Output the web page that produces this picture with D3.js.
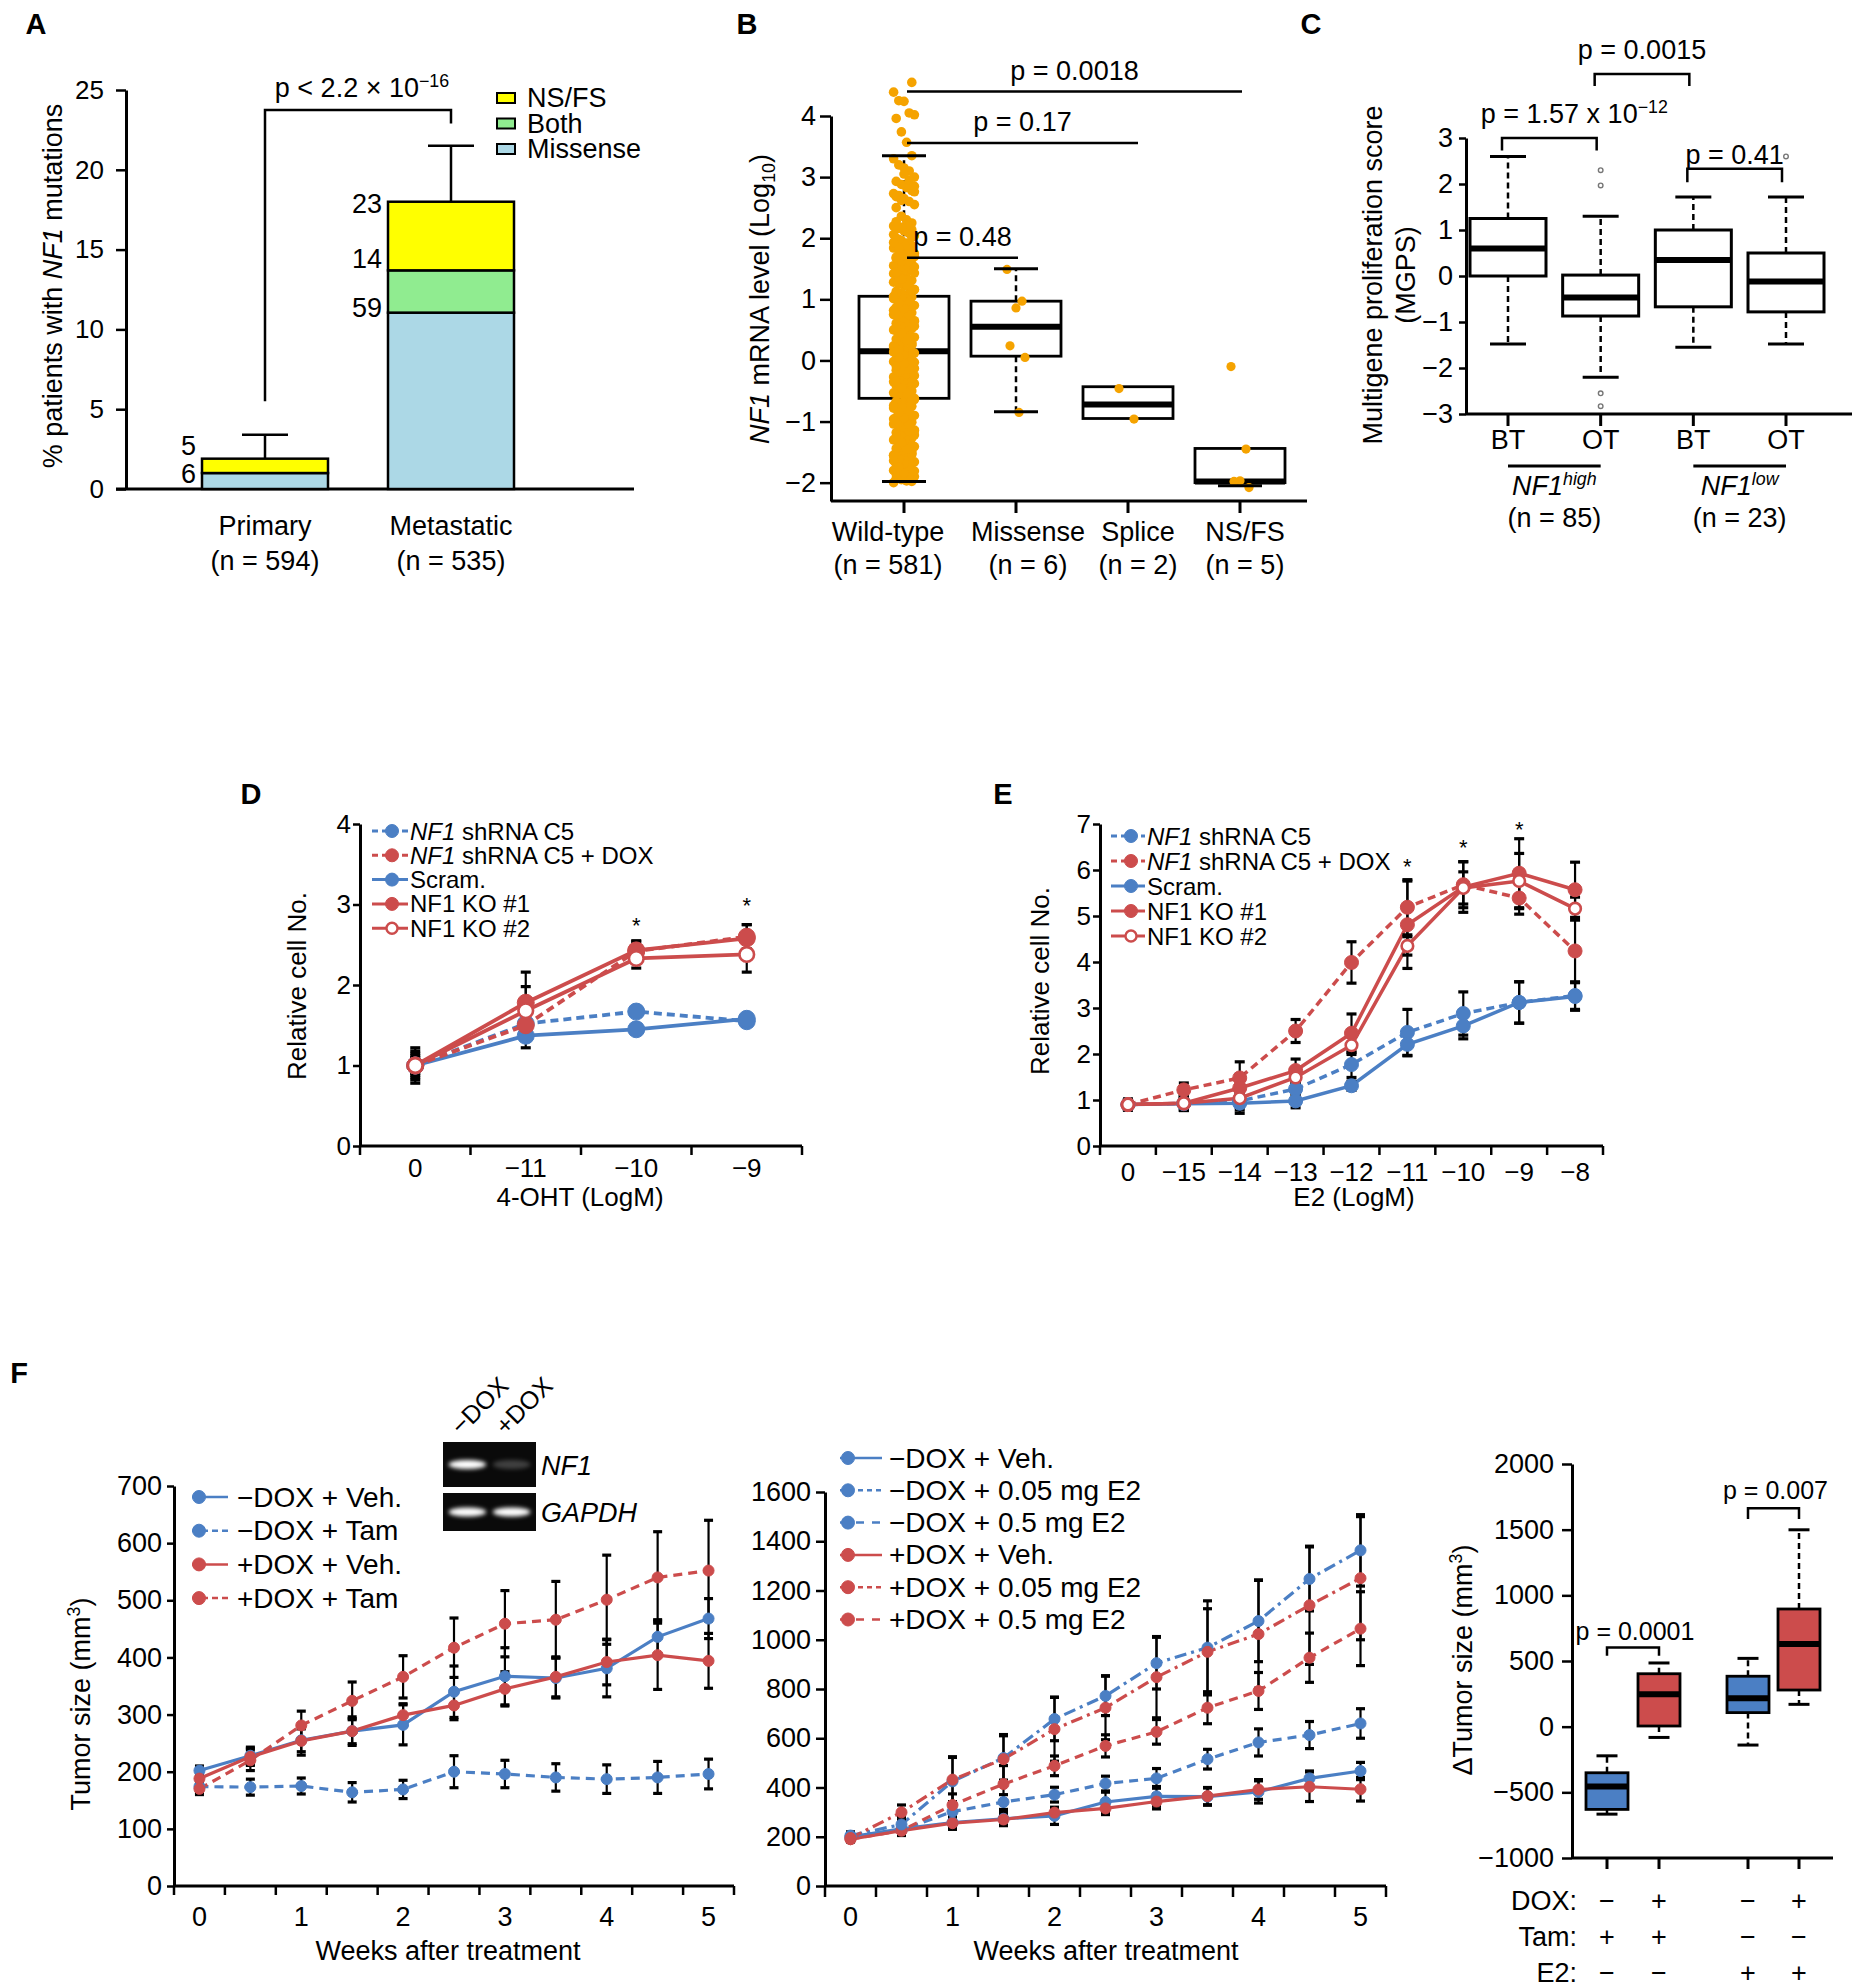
<!DOCTYPE html>
<html><head><meta charset="utf-8">
<script src="https://cdn.jsdelivr.net/npm/d3@7"></script>
<style>
body{margin:0;background:#fff;}
svg text{font-family:"Liberation Sans", Arial, Helvetica, sans-serif; fill:#000;}
</style></head><body>
<svg id="fig" width="1860" height="1988"></svg>
<script>
// ================= DATA =================
// Panel A
const aCategories = ["Primary", "Metastatic"];
const aSubLabels = ["(n = 594)", "(n = 535)"];
const aKeys = ["Missense", "Both", "NS/FS"];
const aMissense = [1.0, 11.05];
const aBoth = [0.0, 2.65];
const aNSFS = [0.9, 4.3];
const aErrTop = [3.4, 21.5];
const aCountLabels = [["6", "", "5"], ["59", "14", "23"]];
const aTicks = [0, 5, 10, 15, 20, 25];
const aBracket = {left: 5.5, top: 23.75, right: 22.9};

// Panel B
const bCategories = ["Wild-type", "Missense", "Splice", "NS/FS"];
const bCounts = ["(n = 581)", "(n = 6)", "(n = 2)", "(n = 5)"];
const bQ1 = [-0.62, 0.07, -0.95, -2.0];
const bMedian = [0.15, 0.55, -0.72, -1.98];
const bQ3 = [1.05, 0.97, -0.43, -1.44];
const bWhiskLo = [-1.98, -0.84, null, -2.05];
const bWhiskHi = [3.35, 1.5, null, null];
const bTicks = [-2, -1, 0, 1, 2, 3, 4];
const bWildType = [-2.0,-1.98,-1.97,-1.95,-1.93,-1.9,-1.88,-1.85,-1.82,-1.8,-1.78,-1.75,-1.72,-1.7,-1.66,-1.63,-1.6,-1.58,-1.55,-1.52,-1.5,-1.47,-1.44,-1.41,-1.38,-1.35,-1.33,-1.3,-1.27,-1.24,-1.21,-1.18,-1.15,-1.12,-1.1,-1.07,-1.04,-1.01,-0.98,-0.95,-0.93,-0.9,-0.87,-0.84,-0.81,-0.78,-0.75,-0.72,-0.7,-0.67,-0.64,-0.61,-0.58,-0.55,-0.53,-0.5,-0.47,-0.44,-0.41,-0.38,-0.36,-0.33,-0.3,-0.27,-0.24,-0.21,-0.19,-0.16,-0.13,-0.1,-0.07,-0.04,-0.02,0.01,0.04,0.07,0.1,0.12,0.15,0.18,0.21,0.24,0.27,0.3,0.32,0.35,0.38,0.41,0.44,0.47,0.5,0.52,0.55,0.58,0.61,0.64,0.67,0.7,0.72,0.75,0.78,0.81,0.84,0.87,0.9,0.92,0.95,0.98,1.01,1.04,1.07,1.1,1.13,1.16,1.19,1.22,1.25,1.28,1.31,1.34,1.37,1.4,1.43,1.46,1.49,1.52,1.55,1.58,1.61,1.64,1.67,1.7,1.73,1.76,1.8,1.84,1.88,1.92,1.96,2.0,2.04,2.08,2.12,2.16,2.2,2.25,2.3,2.36,2.5,2.55,2.6,2.65,2.7,2.73,2.78,2.83,2.88,2.93,3.0,3.1,3.15,3.2,3.3,3.35,3.57,3.74,3.96,4.02,4.05,4.24,4.25,4.39,4.55,
 -1.96,-1.91,-1.86,-1.81,-1.76,-1.69,-1.62,-1.56,-1.49,-1.42,-1.36,-1.29,-1.22,-1.16,-1.09,-1.02,-0.96,-0.89,-0.82,-0.76,-0.69,-0.62,-0.56,-0.49,-0.42,-0.35,-0.29,-0.22,-0.15,-0.09,-0.03,0.03,0.09,0.16,0.22,0.29,0.36,0.42,0.49,0.56,0.62,0.69,0.76,0.82,0.89,0.96,1.02,1.09,1.16,1.22,1.29,1.36,1.42,1.49,1.56,1.62,1.69,1.75,1.82,1.9,1.98,2.06,2.14,2.22,2.62,2.68,2.76,
 -1.94,-1.84,-1.74,-1.64,-1.54,-1.45,-1.34,-1.25,-1.14,-1.05,-0.94,-0.85,-0.74,-0.65,-0.54,-0.45,-0.34,-0.25,-0.14,-0.05,0.05,0.14,0.25,0.34,0.45,0.54,0.65,0.74,0.85,0.94,1.05,1.14,1.24,1.33,1.44,1.53,1.63,1.72,1.83,1.93,2.02,2.11,2.18,2.27,2.85,2.95,3.05];
const bMissensePts = [1.49, 0.97, 0.86, 0.24, 0.05, -0.85];
const bSplicePts = [-0.46, -0.96];
const bNSFSPts = [-0.1, -1.45, -1.97, -1.98, -2.08];
const bPvals = [
  {p: "p = 0.48", from: "Wild-type", to: "Missense", y: 1.68},
  {p: "p = 0.17", from: "Wild-type", to: "Splice", y: 3.56},
  {p: "p = 0.0018", from: "Wild-type", to: "NS/FS", y: 4.4}
];

// Panel C
const cLabels = ["BT", "OT", "BT", "OT"];
const cQ1 = [0.0, -0.87, -0.67, -0.78];
const cMedian = [0.6, -0.47, 0.35, -0.12];
const cQ3 = [1.25, 0.02, 1.0, 0.5];
const cWhiskLo = [-1.48, -2.2, -1.55, -1.48];
const cWhiskHi = [2.6, 1.3, 1.72, 1.72];
const cOutliers = [[], [2.3, 1.97, -2.55, -2.83], [], [2.6]];
const cTicks = [-3, -2, -1, 0, 1, 2, 3];
const cBrackets = [
  {from: 0, to: 1, top: 3.0, leg: 2.73, text: [{t: "p = 1.57 x 10"}, {t: "\u221212", sup: true}], ty: 3.33},
  {from: 1, to: 2, top: 4.39, leg: 4.13, text: [{t: "p = 0.0015"}], ty: 4.72},
  {from: 2, to: 3, top: 2.33, leg: 2.04, text: [{t: "p = 0.41"}], ty: 2.43}
];
const cGroups = [
  {from: 0, to: 1, name: "high", n: "(n = 85)"},
  {from: 2, to: 3, name: "low", n: "(n = 23)"}
];

// Panel D
const dCategories = ["0", "\u221211", "\u221210", "\u22129"];
const dShC5 = [1.0, 1.52, 1.67, 1.55];
const dShC5Err = [0.1, 0.08, 0.06, 0.06];
const dShC5Dox = [1.0, 1.5, 2.42, 2.6];
const dShC5DoxErr = [0.15, 0.12, 0.12, 0.15];
const dScram = [1.0, 1.37, 1.45, 1.58];
const dScramErr = [0.12, 0.15, 0.06, 0.05];
const dKO1 = [1.0, 1.78, 2.43, 2.58];
const dKO1Err = [0.18, 0.38, 0.12, 0.17];
const dKO2 = [1.0, 1.68, 2.33, 2.38];
const dKO2Err = [0.22, 0.3, 0.12, 0.22];
const dTicks = [0, 1, 2, 3, 4];
const dStars = [{cat: "\u221210", y: 2.75}, {cat: "\u22129", y: 2.99}];

// Panel E
const eCategories = ["0", "\u221215", "\u221214", "\u221213", "\u221212", "\u221211", "\u221210", "\u22129", "\u22128"];
const eShC5 = [0.9, 0.93, 0.98, 1.24, 1.77, 2.47, 2.88, 3.12, 3.27];
const eShC5Err = [0.12, 0.15, 0.2, 0.15, 0.28, 0.5, 0.47, 0.45, 0.3];
const eShC5Dox = [0.9, 1.22, 1.48, 2.5, 3.99, 5.19, 5.68, 5.39, 4.24];
const eShC5DoxErr = [0.1, 0.15, 0.35, 0.25, 0.45, 0.6, 0.5, 0.35, 0.9];
const eScram = [0.9, 0.92, 0.93, 0.98, 1.31, 2.21, 2.61, 3.12, 3.25];
const eScramErr = [0.12, 0.15, 0.22, 0.15, 0.1, 0.25, 0.28, 0.45, 0.3];
const eKO1 = [0.9, 0.93, 1.26, 1.64, 2.45, 4.81, 5.63, 5.93, 5.57];
const eKO1Err = [0.1, 0.15, 0.3, 0.25, 0.42, 0.95, 0.55, 0.75, 0.6];
const eKO2 = [0.9, 0.93, 1.04, 1.49, 2.19, 4.35, 5.61, 5.76, 5.16];
const eKO2Err = [0.1, 0.1, 0.2, 0.15, 0.2, 0.2, 0.35, 0.6, 0.25];
const eTicks = [0, 1, 2, 3, 4, 5, 6, 7];
const eStars = [{cat: "\u221211", y: 6.09}, {cat: "\u221210", y: 6.5}, {cat: "\u22129", y: 6.89}];

// Panel F (left)
const fWeeks = ["0", "0.5", "1", "1.5", "2", "2.5", "3", "3.5", "4", "4.5", "5"];
const fWeekLabels = ["0", "1", "2", "3", "4", "5"];
const flVeh = [202, 228, 255, 271, 282, 340, 367, 364, 381, 436, 468];
const flVehErr = [8, 15, 20, 22, 35, 45, 50, 35, 50, 30, 35];
const flTam = [174, 173, 175, 164, 169, 200, 196, 190, 187, 190, 196];
const flTamErr = [10, 14, 14, 17, 16, 28, 24, 24, 25, 28, 26];
const flDoxVeh = [188, 226, 254, 271, 299, 316, 345, 366, 392, 404, 394];
const flDoxVehErr = [10, 15, 25, 25, 20, 25, 30, 35, 40, 60, 48];
const flDoxTam = [170, 220, 281, 324, 366, 417, 459, 466, 501, 540, 552];
const flDoxTamErr = [10, 18, 25, 33, 37, 52, 58, 67, 78, 80, 88];
const flTicks = [0, 100, 200, 300, 400, 500, 600, 700];
const gelLanes = ["\u2212DOX", "+DOX"];
const gelNF1 = [1.0, 0.22];
const gelGAPDH = [1.0, 1.0];

// Panel F (middle)
const fmVeh = [200, 232, 258, 273, 285, 341, 364, 363, 382, 437, 467];
const fmVehErr = [10, 15, 20, 25, 35, 40, 40, 35, 45, 30, 35];
const fmE2Low = [205, 250, 425, 520, 678, 772, 905, 968, 1076, 1247, 1363];
const fmE2LowErr = [15, 30, 100, 90, 88, 80, 105, 190, 165, 130, 145];
const fmE2High = [200, 228, 302, 341, 371, 416, 437, 515, 583, 613, 660];
const fmE2HighErr = [10, 15, 40, 30, 30, 30, 40, 40, 55, 55, 60];
const fmDoxVeh = [190, 225, 255, 270, 298, 315, 343, 365, 392, 403, 393];
const fmDoxVehErr = [10, 15, 25, 25, 20, 25, 30, 35, 40, 60, 48];
const fmDoxE2Low = [195, 299, 432, 515, 637, 724, 848, 951, 1023, 1140, 1250];
const fmDoxE2LowErr = [15, 30, 90, 100, 130, 130, 165, 175, 220, 240, 250];
const fmDoxE2High = [190, 225, 329, 414, 488, 569, 626, 724, 792, 927, 1045];
const fmDoxE2HighErr = [10, 20, 45, 75, 40, 45, 50, 65, 75, 100, 150];
const fmTicks = [0, 200, 400, 600, 800, 1000, 1200, 1400, 1600];

// Panel F (right)
const frCats = ["g1", "g2", "g3", "g4"];
const frQ1 = [-630, 5, 107, 279];
const frMedian = [-455, 247, 216, 630];
const frQ3 = [-351, 403, 384, 896];
const frWhiskLo = [-666, -82, -140, 170];
const frWhiskHi = [-222, 485, 520, 1499];
const frDox = ["\u2212", "+", "\u2212", "+"];
const frTam = ["+", "+", "\u2212", "\u2212"];
const frE2 = ["\u2212", "\u2212", "+", "+"];
const frTicks = [-1000, -500, 0, 500, 1000, 1500, 2000];
const frBrackets = [
  {from: "g1", to: "g2", top: 603, leg: 540, p: "p = 0.0001", ty: 663},
  {from: "g3", to: "g4", top: 1663, leg: 1581, p: "p = 0.007", ty: 1732}
];

// ================= DRAWING =================
const FONT = '"Liberation Sans", Arial, Helvetica, sans-serif';
const BLUE = "#4b7fc4", RED = "#cc4c4c";
const svg = d3.select("#fig");
svg.append("rect").attr("width", 1860).attr("height", 1988).attr("fill", "#fff");
const defs = svg.append("defs");
defs.append("filter").attr("id", "blur").attr("x", "-50%").attr("y", "-100%").attr("width", "200%").attr("height", "300%")
  .append("feGaussianBlur").attr("stdDeviation", 2.2);

function txt(g, x, y, s, o = {}) {
  const size = o.size || 26;
  const t = g.append("text").attr("x", x).attr("y", y)
    .attr("font-size", size).attr("text-anchor", o.anchor || "middle");
  if (o.weight) t.attr("font-weight", o.weight);
  if (o.italic) t.attr("font-style", "italic");
  if (o.rotate) t.attr("transform", `rotate(${o.rotate},${x},${y})`);
  if (o.baseline) t.attr("dominant-baseline", o.baseline);
  if (Array.isArray(s)) {
    let shift = 0;
    s.forEach(p => {
      const sp = t.append("tspan").text(p.t);
      if (p.i) sp.attr("font-style", "italic");
      let target = 0;
      if (p.sup) { target = -size * 0.38; sp.attr("font-size", size * 0.66); }
      if (p.sub) { target = size * 0.22; sp.attr("font-size", size * 0.66); }
      if (target !== shift) { sp.attr("dy", target - shift); shift = target; }
    });
  } else t.text(s);
  return t;
}
function line(g, x1, y1, x2, y2, w = 3, dash = null, color = "#000") {
  return g.append("line").attr("x1", x1).attr("y1", y1).attr("x2", x2).attr("y2", y2)
    .attr("stroke", color).attr("stroke-width", w).attr("stroke-dasharray", dash);
}
function styleAxis(ax, size) {
  ax.attr("font-family", FONT).attr("font-size", size);
  ax.select(".domain").attr("stroke", "#000").attr("stroke-width", 3);
  ax.selectAll(".tick line").attr("stroke", "#000").attr("stroke-width", 2.5);
  ax.selectAll(".tick text").attr("fill", "#000");
}
function yAxisLeft(g, x0, y, ticks, tickSize, pad, size) {
  const ax = g.append("g").attr("transform", `translate(${x0},0)`)
    .call(d3.axisLeft(y).tickValues(ticks).tickSize(tickSize).tickSizeOuter(0).tickPadding(pad).tickFormat(d3.format("d")));
  styleAxis(ax, size);
  return ax;
}
function letter(x, y, s) { txt(svg, x, y, s, {size: 29, weight: "bold"}); }

// ---------- Panel A ----------
(function () {
  const g = svg.append("g");
  letter(36, 34, "A");
  const y = d3.scaleLinear([0, 25], [489, 90]);
  const x = d3.scalePoint(aCategories, [265, 451]);
  const bw = 126;
  yAxisLeft(g, 126, y, aTicks, 10, 12, 26);
  line(g, 116, y(0), 634, y(0), 3);
  const table = aCategories.map((c, i) => ({cat: c, Missense: aMissense[i], Both: aBoth[i], "NS/FS": aNSFS[i]}));
  const stack = d3.stack().keys(aKeys)(table);
  const colors = {"Missense": "#acd8e6", "Both": "#90ec90", "NS/FS": "#ffff00"};
  aCategories.forEach((c, i) => {
    const top = aMissense[i] + aBoth[i] + aNSFS[i];
    line(g, x(c), y(top), x(c), y(aErrTop[i]), 2.5);
    line(g, x(c) - 23, y(aErrTop[i]), x(c) + 23, y(aErrTop[i]), 2.5);
  });
  stack.forEach(layer => {
    g.selectAll(null).data(layer).join("rect")
      .attr("x", d => x(d.data.cat) - bw / 2).attr("width", bw)
      .attr("y", d => y(d[1])).attr("height", d => y(d[0]) - y(d[1]))
      .attr("fill", colors[layer.key]).attr("stroke", "#000").attr("stroke-width", 2.5);
  });
  // count labels (vertical nudges are layout only)
  const labelDy = [[10, 0, -4], [4, -2, 11]];
  aCategories.forEach((c, i) => {
    let cum = 0;
    aKeys.forEach((k, j) => {
      cum += table[i][k];
      const lab = aCountLabels[i][j];
      if (lab) txt(g, x(c) - bw / 2 - 6, y(cum) + labelDy[i][j], lab, {size: 27, anchor: "end"});
    });
  });
  g.append("path").attr("d", `M${x("Primary")},${y(aBracket.left)}V${y(aBracket.top)}H${x("Metastatic")}V${y(aBracket.right)}`)
    .attr("fill", "none").attr("stroke", "#000").attr("stroke-width", 2.5);
  txt(g, 362, 97, [{t: "p < 2.2 \u00d7 10"}, {t: "\u221216", sup: true}], {size: 27});
  const leg = ["NS/FS", "Both", "Missense"];
  leg.forEach((k, i) => {
    const yy = 98 + i * 25.5;
    g.append("rect").attr("x", 497).attr("y", yy - 5).attr("width", 18).attr("height", 10)
      .attr("fill", colors[k]).attr("stroke", "#000").attr("stroke-width", 2);
    txt(g, 527, yy, k, {size: 27, anchor: "start", baseline: "central"});
  });
  aCategories.forEach((c, i) => {
    txt(g, x(c), 535, c, {size: 27});
    txt(g, x(c), 570, aSubLabels[i], {size: 27});
  });
  txt(g, 62, 286, [{t: "% patients with "}, {t: "NF1", i: true}, {t: " mutations"}], {size: 27, rotate: -90});
})();

// ---------- Panel B ----------
(function () {
  const g = svg.append("g");
  letter(747, 34, "B");
  const x = d3.scalePoint(bCategories, [904, 1240]);
  const y = d3.scaleLinear([-2.3, 4], [501, 116]);
  yAxisLeft(g, 831, y, bTicks, 11, 4, 27);
  line(g, 831, y(-2.3), 1307, y(-2.3), 3);
  bCategories.forEach(c => line(g, x(c), y(-2.3), x(c), y(-2.3) + 12, 3));
  const hw = 45, cap = 22;
  bCategories.forEach((c, i) => {
    const cx = x(c);
    if (bWhiskHi[i] != null) line(g, cx, y(bQ3[i]), cx, y(bWhiskHi[i]), 2.5, "6,4");
    if (bWhiskLo[i] != null) line(g, cx, y(bQ1[i]), cx, y(bWhiskLo[i]), 2.5, "6,4");
    g.append("rect").attr("x", cx - hw).attr("width", 2 * hw).attr("y", y(bQ3[i])).attr("height", y(bQ1[i]) - y(bQ3[i]))
      .attr("fill", "none").attr("stroke", "#000").attr("stroke-width", 2.8);
    line(g, cx - hw, y(bMedian[i]), cx + hw, y(bMedian[i]), 6);
  });
  const dotC = "#f5a300";
  g.selectAll(null).data(bWildType).join("circle")
    .attr("cx", (d, i) => x("Wild-type") + ((i * 7) % 9 - 4) * 2.6).attr("cy", d => y(d)).attr("r", 4.8).attr("fill", dotC);
  [["Missense", bMissensePts], ["Splice", bSplicePts], ["NS/FS", bNSFSPts]].forEach(([c, pts]) => {
    g.selectAll(null).data(pts).join("circle")
      .attr("cx", (d, i) => x(c) + ((i * 5) % 7 - 3) * 3).attr("cy", d => y(d)).attr("r", 4.6).attr("fill", dotC);
  });
  bCategories.forEach((c, i) => {
    const cx = x(c);
    if (bWhiskHi[i] != null) line(g, cx - cap, y(bWhiskHi[i]), cx + cap, y(bWhiskHi[i]), 3);
    if (bWhiskLo[i] != null) line(g, cx - cap, y(bWhiskLo[i]), cx + cap, y(bWhiskLo[i]), 3);
  });
  bPvals.forEach(p => {
    const x1 = x(p.from) + 3, x2 = x(p.to) + (p.to === "Splice" ? 10 : 2);
    line(g, x1, y(p.y), x2, y(p.y), 2.5);
    txt(g, (x1 + x2) / 2, y(p.y) - 12, p.p, {size: 27});
  });
  const labelDx = [-16, 12, 10, 5];
  bCategories.forEach((c, i) => {
    txt(g, x(c) + labelDx[i], 541, c, {size: 27});
    txt(g, x(c) + labelDx[i], 574, bCounts[i], {size: 27});
  });
  txt(g, 769, 299, [{t: "NF1", i: true}, {t: " mRNA level (Log"}, {t: "10", sub: true}, {t: ")"}], {size: 27, rotate: -90});
})();

// ---------- Panel C ----------
(function () {
  const g = svg.append("g");
  letter(1311, 34, "C");
  const idx = cLabels.map((d, i) => i);
  const x = d3.scalePoint(idx, [1508, 1786]);
  const y = d3.scaleLinear([-3, 3], [414, 138]);
  yAxisLeft(g, 1466, y, cTicks, 7, 6, 27);
  line(g, 1466, y(-3), 1852, y(-3), 3);
  idx.forEach(i => line(g, x(i), y(-3), x(i), y(-3) + 12, 3));
  const hw = 38, cap = 18;
  idx.forEach(i => {
    const cx = x(i);
    line(g, cx, y(cQ3[i]), cx, y(cWhiskHi[i]), 2.5, "6,4");
    line(g, cx, y(cQ1[i]), cx, y(cWhiskLo[i]), 2.5, "6,4");
    line(g, cx - cap, y(cWhiskHi[i]), cx + cap, y(cWhiskHi[i]), 3);
    line(g, cx - cap, y(cWhiskLo[i]), cx + cap, y(cWhiskLo[i]), 3);
    g.append("rect").attr("x", cx - hw).attr("width", 2 * hw).attr("y", y(cQ3[i])).attr("height", y(cQ1[i]) - y(cQ3[i]))
      .attr("fill", "#fff").attr("stroke", "#000").attr("stroke-width", 3);
    line(g, cx - hw, y(cMedian[i]), cx + hw, y(cMedian[i]), 6);
    g.selectAll(null).data(cOutliers[i]).join("circle").attr("cx", cx).attr("cy", d => y(d)).attr("r", 2.3)
      .attr("fill", "none").attr("stroke", "#777").attr("stroke-width", 1.4);
    txt(g, cx, 449, cLabels[i], {size: 27});
  });
  cBrackets.forEach(b => {
    const x1 = x(b.from) - 6, x2 = x(b.to) - 4;
    g.append("path").attr("d", `M${x1},${y(b.leg)}V${y(b.top)}H${x2}V${y(b.leg)}`)
      .attr("fill", "none").attr("stroke", "#000").attr("stroke-width", 2.5);
    txt(g, (x1 + x2) / 2 + (b.from === 0 ? 25 : 0), y(b.ty), b.text, {size: 27});
  });
  cGroups.forEach(gr => {
    line(g, x(gr.from), 466, x(gr.to), 466, 3);
    const mx = (x(gr.from) + x(gr.to)) / 2;
    txt(g, mx, 495, [{t: "NF1", i: true}, {t: gr.name, i: true, sup: true}], {size: 27});
    txt(g, mx, 527, gr.n, {size: 27});
  });
  txt(g, 1382, 275, "Multigene proliferation score", {size: 27, rotate: -90});
  txt(g, 1415, 275, "(MGPS)", {size: 27, rotate: -90});
})();

// ---------- generic series panel ----------
function seriesPanel(g, cfg) {
  const {x, y, cats, series, r, lw, capW} = cfg;
  const cx = c => x(c) + x.bandwidth() / 2;
  series.forEach(s => {
    const ln = d3.line().x((d, i) => cx(cats[i])).y(d => y(d));
    g.append("path").datum(s.values).attr("d", ln).attr("fill", "none")
      .attr("stroke", s.color).attr("stroke-width", lw).attr("stroke-dasharray", s.dash || null);
  });
  series.forEach(s => {
    s.values.forEach((v, i) => {
      const e = s.err[i], xx = cx(cats[i]);
      line(g, xx, y(v - e), xx, y(v + e), 2.2);
      line(g, xx - capW, y(v - e), xx + capW, y(v - e), 3.2);
      line(g, xx - capW, y(v + e), xx + capW, y(v + e), 3.2);
    });
  });
  series.forEach(s => {
    g.selectAll(null).data(s.values).join("circle")
      .attr("cx", (d, i) => cx(cats[i])).attr("cy", d => y(d)).attr("r", s.open ? r - 1.2 : r)
      .attr("fill", s.open ? "#fff" : s.color).attr("stroke", s.color).attr("stroke-width", s.open ? 2.6 : 1);
  });
}
function bandAxes(g, x, y, yTicks, o) {
  const [x0, x1] = x.range();
  yAxisLeft(g, x0, y, yTicks, o.tick, o.pad, o.fs);
  const yb = y(y.domain()[0]);
  line(g, x0, yb, x1, yb, 3);
  const bounds = x.domain().map(c => x(c)).concat([x1]);
  g.selectAll(null).data(bounds).join("line").attr("x1", d => d).attr("x2", d => d)
    .attr("y1", yb).attr("y2", yb + o.tick + 2).attr("stroke", "#000").attr("stroke-width", 2.5);
  x.domain().forEach(c => {
    if (o.labels.includes(c)) txt(g, x(c) + x.bandwidth() / 2, o.labelY, c, {size: o.fs});
  });
}
function legend(g, items, o) {
  items.forEach((it, i) => {
    const yy = o.y0 + i * o.dy;
    line(g, o.lx1, yy, o.lx2, yy, o.lw, it.dash || null, it.color);
    g.append("circle").attr("cx", o.mx).attr("cy", yy).attr("r", it.open ? o.r - 1 : o.r)
      .attr("fill", it.open ? "#fff" : it.color).attr("stroke", it.color).attr("stroke-width", it.open ? 2.4 : 1);
    txt(g, o.tx, yy, it.label, {size: o.fs, anchor: "start", baseline: "central"});
  });
}

// ---------- Panel D ----------
(function () {
  const g = svg.append("g");
  letter(251, 804, "D");
  const x = d3.scaleBand(dCategories, [360, 802]);
  const y = d3.scaleLinear([0, 4], [1146, 824]);
  bandAxes(g, x, y, dTicks, {tick: 7, pad: 2, fs: 26, labels: dCategories, labelY: 1177});
  const series = [
    {values: dShC5, err: dShC5Err, color: BLUE, dash: "8,5"},
    {values: dScram, err: dScramErr, color: BLUE},
    {values: dShC5Dox, err: dShC5DoxErr, color: RED, dash: "8,5"},
    {values: dKO1, err: dKO1Err, color: RED},
    {values: dKO2, err: dKO2Err, color: RED, open: true}
  ];
  seriesPanel(g, {x, y, cats: dCategories, series, r: 8.5, lw: 3.8, capW: 5});
  dStars.forEach(s => txt(g, x(s.cat) + x.bandwidth() / 2, y(s.y) + 8, "*", {size: 22}));
  legend(g, [
    {label: [{t: "NF1", i: true}, {t: " shRNA C5"}], color: BLUE, dash: "6,4"},
    {label: [{t: "NF1", i: true}, {t: " shRNA C5 + DOX"}], color: RED, dash: "6,4"},
    {label: "Scram.", color: BLUE},
    {label: "NF1 KO #1", color: RED},
    {label: "NF1 KO #2", color: RED, open: true}
  ], {y0: 831, dy: 24.3, lx1: 372, lx2: 408, mx: 392, r: 6.5, lw: 3, tx: 410, fs: 24});
  txt(g, 580, 1206, "4-OHT (LogM)", {size: 26});
  txt(g, 306, 986, "Relative cell No.", {size: 26, rotate: -90});
})();

// ---------- Panel E ----------
(function () {
  const g = svg.append("g");
  letter(1003, 804, "E");
  const x = d3.scaleBand(eCategories, [1100, 1603]);
  const y = d3.scaleLinear([0, 7], [1146, 824]);
  bandAxes(g, x, y, eTicks, {tick: 7, pad: 2, fs: 26, labels: eCategories, labelY: 1181});
  const series = [
    {values: eShC5, err: eShC5Err, color: BLUE, dash: "8,5"},
    {values: eScram, err: eScramErr, color: BLUE},
    {values: eShC5Dox, err: eShC5DoxErr, color: RED, dash: "8,5"},
    {values: eKO1, err: eKO1Err, color: RED},
    {values: eKO2, err: eKO2Err, color: RED, open: true}
  ];
  seriesPanel(g, {x, y, cats: eCategories, series, r: 7, lw: 3.5, capW: 5});
  eStars.forEach(s => txt(g, x(s.cat) + x.bandwidth() / 2, y(s.y) + 8, "*", {size: 22}));
  legend(g, [
    {label: [{t: "NF1", i: true}, {t: " shRNA C5"}], color: BLUE, dash: "6,4"},
    {label: [{t: "NF1", i: true}, {t: " shRNA C5 + DOX"}], color: RED, dash: "6,4"},
    {label: "Scram.", color: BLUE},
    {label: "NF1 KO #1", color: RED},
    {label: "NF1 KO #2", color: RED, open: true}
  ], {y0: 836, dy: 25, lx1: 1111, lx2: 1145, mx: 1131, r: 6.5, lw: 3, tx: 1147, fs: 24});
  txt(g, 1354, 1206, "E2 (LogM)", {size: 26});
  txt(g, 1049, 981, "Relative cell No.", {size: 26, rotate: -90});
})();

// ---------- Panel F left ----------
(function () {
  const g = svg.append("g");
  letter(19, 1383, "F");
  const x = d3.scaleBand(fWeeks, [174, 734]);
  const y = d3.scaleLinear([0, 700], [1886, 1486]);
  bandAxes(g, x, y, flTicks, {tick: 7, pad: 5, fs: 27, labels: fWeekLabels, labelY: 1926});
  const series = [
    {values: flTam, err: flTamErr, color: BLUE, dash: "9,6"},
    {values: flVeh, err: flVehErr, color: BLUE},
    {values: flDoxVeh, err: flDoxVehErr, color: RED},
    {values: flDoxTam, err: flDoxTamErr, color: RED, dash: "9,6"}
  ];
  seriesPanel(g, {x, y, cats: fWeeks, series, r: 5.5, lw: 3.2, capW: 4.5});
  legend(g, [
    {label: "\u2212DOX + Veh.", color: BLUE},
    {label: "\u2212DOX + Tam", color: BLUE, dash: "6,4"},
    {label: "+DOX + Veh.", color: RED},
    {label: "+DOX + Tam", color: RED, dash: "6,4"}
  ], {y0: 1497, dy: 33.7, lx1: 192, lx2: 228, mx: 199, r: 6.5, lw: 2.5, tx: 237, fs: 28});
  txt(g, 448, 1960, "Weeks after treatment", {size: 27});
  txt(g, 90, 1704, [{t: "Tumor size (mm"}, {t: "3", sup: true}, {t: ")"}], {size: 27, rotate: -90});
  const gx = d3.scaleBand(gelLanes, [443, 536]).paddingInner(0.06).paddingOuter(0.08);
  const rows = [{name: "NF1", vals: gelNF1, y0: 1442, y1: 1487}, {name: "GAPDH", vals: gelGAPDH, y0: 1493, y1: 1531}];
  rows.forEach(rw => {
    g.append("rect").attr("x", 443).attr("y", rw.y0).attr("width", 93).attr("height", rw.y1 - rw.y0).attr("fill", "#0a0a0a");
    gelLanes.forEach((ln, i) => {
      g.append("ellipse").attr("cx", gx(ln) + gx.bandwidth() / 2).attr("cy", (rw.y0 + rw.y1) / 2)
        .attr("rx", gx.bandwidth() / 2 - 2).attr("ry", 4.5).attr("fill", "#fff").attr("opacity", rw.vals[i])
        .attr("filter", "url(#blur)");
    });
    txt(g, 541, (rw.y0 + rw.y1) / 2 + 10, rw.name, {size: 27, anchor: "start", italic: true});
  });
  gelLanes.forEach(ln => {
    const lx = gx(ln) + gx.bandwidth() / 2 - 6;
    txt(g, lx, 1436, ln, {size: 25, anchor: "start", rotate: -45});
  });
})();

// ---------- Panel F middle ----------
(function () {
  const g = svg.append("g");
  const x = d3.scaleBand(fWeeks, [825, 1386]);
  const y = d3.scaleLinear([0, 1600], [1886, 1492]);
  bandAxes(g, x, y, fmTicks, {tick: 9, pad: 5, fs: 27, labels: fWeekLabels, labelY: 1926});
  const DD = "12,5,3,5", DS = "9,6";
  const series = [
    {values: fmVeh, err: fmVehErr, color: BLUE},
    {values: fmDoxVeh, err: fmDoxVehErr, color: RED},
    {values: fmE2High, err: fmE2HighErr, color: BLUE, dash: DS},
    {values: fmDoxE2High, err: fmDoxE2HighErr, color: RED, dash: DS},
    {values: fmE2Low, err: fmE2LowErr, color: BLUE, dash: DD},
    {values: fmDoxE2Low, err: fmDoxE2LowErr, color: RED, dash: DD}
  ];
  seriesPanel(g, {x, y, cats: fWeeks, series, r: 5.5, lw: 3.2, capW: 4.5});
  legend(g, [
    {label: "\u2212DOX + Veh.", color: BLUE},
    {label: "\u2212DOX + 0.05 mg E2", color: BLUE, dash: "5,4"},
    {label: "\u2212DOX + 0.5 mg E2", color: BLUE, dash: "8,8"},
    {label: "+DOX + Veh.", color: RED},
    {label: "+DOX + 0.05 mg E2", color: RED, dash: "5,4"},
    {label: "+DOX + 0.5 mg E2", color: RED, dash: "8,8"}
  ], {y0: 1458, dy: 32.3, lx1: 840, lx2: 882, mx: 848, r: 6.5, lw: 2.5, tx: 889, fs: 28});
  txt(g, 1106, 1960, "Weeks after treatment", {size: 27});
})();

// ---------- Panel F right ----------
(function () {
  const g = svg.append("g");
  const x = d3.scaleOrdinal(frCats, [1607, 1659, 1748, 1799]);
  const y = d3.scaleLinear([-1000, 2000], [1858, 1464]);
  yAxisLeft(g, 1572, y, frTicks, 10, 8, 27);
  line(g, 1572, y(-1000), 1833, y(-1000), 3);
  frCats.forEach(c => line(g, x(c), y(-1000), x(c), y(-1000) + 11, 3));
  const hw = 21, cap = 10.5;
  const fills = [BLUE, RED, BLUE, RED];
  frCats.forEach((c, i) => {
    const cx = x(c);
    line(g, cx, y(frQ3[i]), cx, y(frWhiskHi[i]), 2.5, "6,4");
    line(g, cx, y(frQ1[i]), cx, y(frWhiskLo[i]), 2.5, "6,4");
    line(g, cx - cap, y(frWhiskHi[i]), cx + cap, y(frWhiskHi[i]), 3);
    line(g, cx - cap, y(frWhiskLo[i]), cx + cap, y(frWhiskLo[i]), 3);
    g.append("rect").attr("x", cx - hw).attr("width", 2 * hw).attr("y", y(frQ3[i])).attr("height", y(frQ1[i]) - y(frQ3[i]))
      .attr("fill", fills[i]).attr("stroke", "#000").attr("stroke-width", 2.8);
    line(g, cx - hw, y(frMedian[i]), cx + hw, y(frMedian[i]), 6);
    txt(g, cx, 1901, frDox[i], {size: 27, baseline: "central"});
    txt(g, cx, 1937, frTam[i], {size: 27, baseline: "central"});
    txt(g, cx, 1973, frE2[i], {size: 27, baseline: "central"});
  });
  txt(g, 1577, 1901, "DOX:", {size: 27, anchor: "end", baseline: "central"});
  txt(g, 1577, 1937, "Tam:", {size: 27, anchor: "end", baseline: "central"});
  txt(g, 1577, 1973, "E2:", {size: 27, anchor: "end", baseline: "central"});
  frBrackets.forEach(b => {
    g.append("path").attr("d", `M${x(b.from)},${y(b.leg)}V${y(b.top)}H${x(b.to)}V${y(b.leg)}`)
      .attr("fill", "none").attr("stroke", "#000").attr("stroke-width", 2.5);
    txt(g, (x(b.from) + x(b.to)) / 2 + 2, y(b.ty), b.p, {size: 25});
  });
  txt(g, 1472, 1660, [{t: "\u0394Tumor size (mm"}, {t: "3", sup: true}, {t: ")"}], {size: 27, rotate: -90});
})();
</script></body></html>
